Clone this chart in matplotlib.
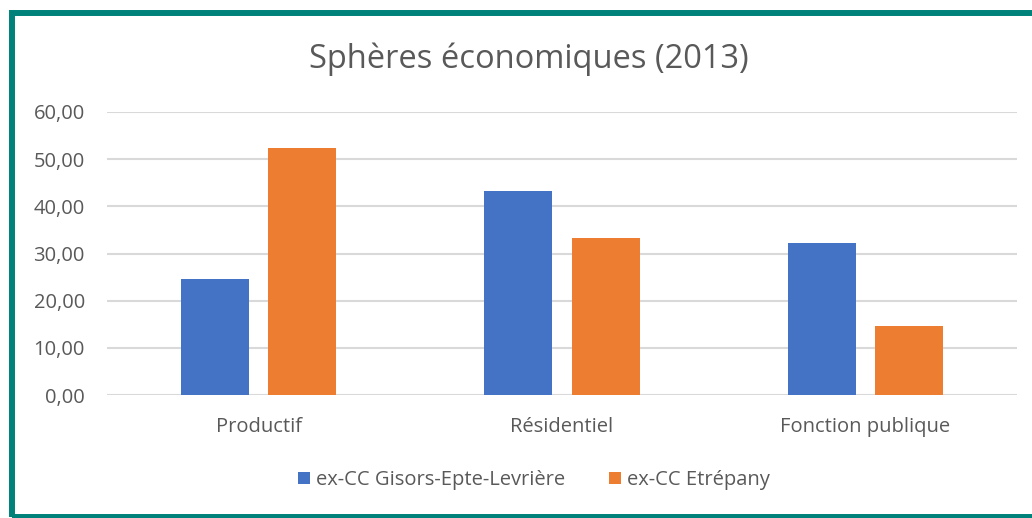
import matplotlib.pyplot as plt
import numpy as np
from matplotlib.patches import Rectangle

categories = ['Productif', 'Résidentiel', 'Fonction publique']
gisors = [24.6, 43.3, 32.3]
etrepany = [52.3, 33.3, 14.6]
series_names = ['ex-CC Gisors-Epte-Levrière', 'ex-CC Etrépany']

plt.rcParams['font.family'] = ['Open Sans', 'DejaVu Sans']
TXT = '#595959'

fig = plt.figure(figsize=(10.32, 5.18), dpi=100)
ax = fig.add_axes([107 / 1032, 1 - 395 / 518, 910 / 1032, 283 / 518])

x = np.arange(len(categories))
w = 0.224
off = 0.1435
ax.bar(x - off, gisors, w, color='#4472C4', label=series_names[0], zorder=3)
ax.bar(x + off, etrepany, w, color='#ED7D31', label=series_names[1], zorder=3)

ax.set_xlim(-0.5, 2.5)
ax.set_ylim(0, 60)
ax.set_yticks(np.arange(0, 61, 10))
ax.set_yticklabels([f'{v:.2f}'.replace('.', ',') for v in np.arange(0, 61, 10)])
ax.set_xticks(x)
ax.set_xticklabels(categories)
ax.tick_params(length=0, labelsize=14.5, colors=TXT)
ax.tick_params(axis='x', pad=16)
ax.tick_params(axis='y', pad=16)
ax.grid(axis='y', color='#D9D9D9', linewidth=1.5, zorder=0)
for s in ax.spines.values():
    s.set_visible(False)

fig.text(529 / 1032, 1 - 59 / 518, 'Sphères économiques (2013)', ha='center', va='center',
         fontsize=23.5, color=TXT)

ax.legend(loc='center', bbox_to_anchor=(534 / 1032, 1 - 480 / 518), bbox_transform=fig.transFigure,
          ncol=2, frameon=False, fontsize=14.5, labelcolor=TXT, handlelength=0.6,
          handleheight=0.6, handletextpad=0.3, columnspacing=2.2)

fig.patches.append(Rectangle((12 / 1032, 1 / 518), 1040 / 1032, 504.5 / 518,
                             transform=fig.transFigure, fill=False,
                             edgecolor='#00827A', linewidth=4.3))

fig.savefig('out.png', dpi=100)
